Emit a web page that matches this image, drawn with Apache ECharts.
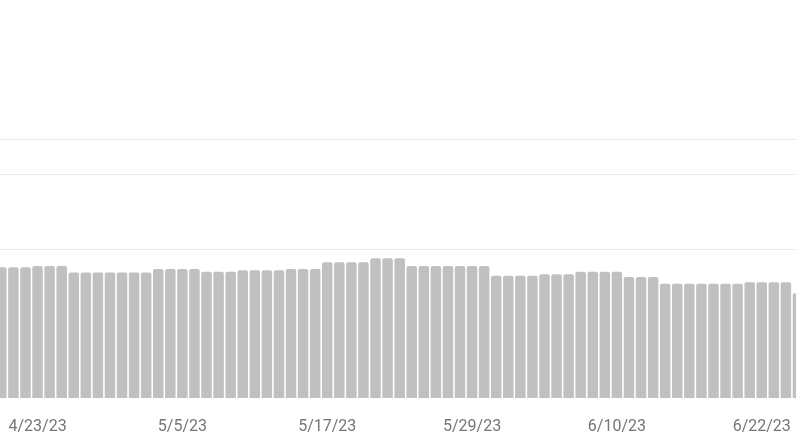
<!DOCTYPE html>
<html>
<head>
<meta charset="utf-8">
<script src="https://cdn.jsdelivr.net/npm/echarts@6/dist/echarts.min.js"></script>
<style>
html,body{margin:0;padding:0;background:#fff;}
#c{width:796px;height:445px;}
</style>
</head>
<body>
<div id="c"></div>
<script>
var categories = [
  '4/20/23','4/21/23','4/22/23','4/23/23','4/24/23','4/25/23','4/26/23','4/27/23','4/28/23','4/29/23','4/30/23',
  '5/1/23','5/2/23','5/3/23','5/4/23','5/5/23','5/6/23','5/7/23','5/8/23','5/9/23','5/10/23',
  '5/11/23','5/12/23','5/13/23','5/14/23','5/15/23','5/16/23','5/17/23','5/18/23','5/19/23','5/20/23',
  '5/21/23','5/22/23','5/23/23','5/24/23','5/25/23','5/26/23','5/27/23','5/28/23','5/29/23','5/30/23','5/31/23',
  '6/1/23','6/2/23','6/3/23','6/4/23','6/5/23','6/6/23','6/7/23','6/8/23','6/9/23','6/10/23',
  '6/11/23','6/12/23','6/13/23','6/14/23','6/15/23','6/16/23','6/17/23','6/18/23','6/19/23','6/20/23',
  '6/21/23','6/22/23','6/23/23','6/24/23','6/25/23'
];
var values = [
  87.9,87.9,87.9,
  88.8,88.8,88.8,
  84.3,84.3,84.3,84.3,84.3,84.3,84.3,
  86.8,86.8,86.8,86.8,
  84.9,84.9,84.9,
  85.9,85.9,85.9,85.9,
  86.8,86.8,86.8,
  91.3,91.3,91.3,91.3,
  93.9,93.9,93.9,
  88.8,88.8,88.8,88.8,88.8,88.8,88.8,
  82.2,82.2,82.2,82.2,
  83.2,83.2,83.2,
  84.9,84.9,84.9,84.9,
  81.4,81.4,81.4,
  76.9,76.9,76.9,76.9,76.9,76.9,76.9,
  77.8,77.8,77.8,77.8,
  70.4
];
var gridLineValues = [100, 150.6, 174];
var yMax = 267.6;

var chart = echarts.init(document.getElementById('c'), null, {renderer: 'canvas'});
chart.setOption({
  animation: false,
  backgroundColor: '#ffffff',
  grid: {left: -4.7, right: -8, top: 0, bottom: 47, containLabel: false, outerBoundsMode: 'none'},
  xAxis: {
    type: 'category',
    data: categories,
    axisLine: {show: false},
    axisTick: {show: false},
    axisLabel: {
      interval: function (idx) { return idx % 12 === 3; },
      color: '#757575',
      fontFamily: 'Roboto',
      fontSize: 16,
      margin: 21
    }
  },
  yAxis: {
    type: 'value',
    min: 0,
    max: yMax,
    show: false,
    splitLine: {show: false}
  },
  series: [{
    type: 'bar',
    data: values,
    barCategoryGap: '13%',
    itemStyle: {color: '#c0c0c0', borderRadius: [2, 2, 0, 0]},
    markLine: {
      silent: true,
      symbol: 'none',
      label: {show: false},
      lineStyle: {color: '#e8e8e8', width: 1, type: 'solid'},
      data: gridLineValues.map(function (v) { return {yAxis: v}; })
    }
  }]
});
</script>
</body>
</html>
